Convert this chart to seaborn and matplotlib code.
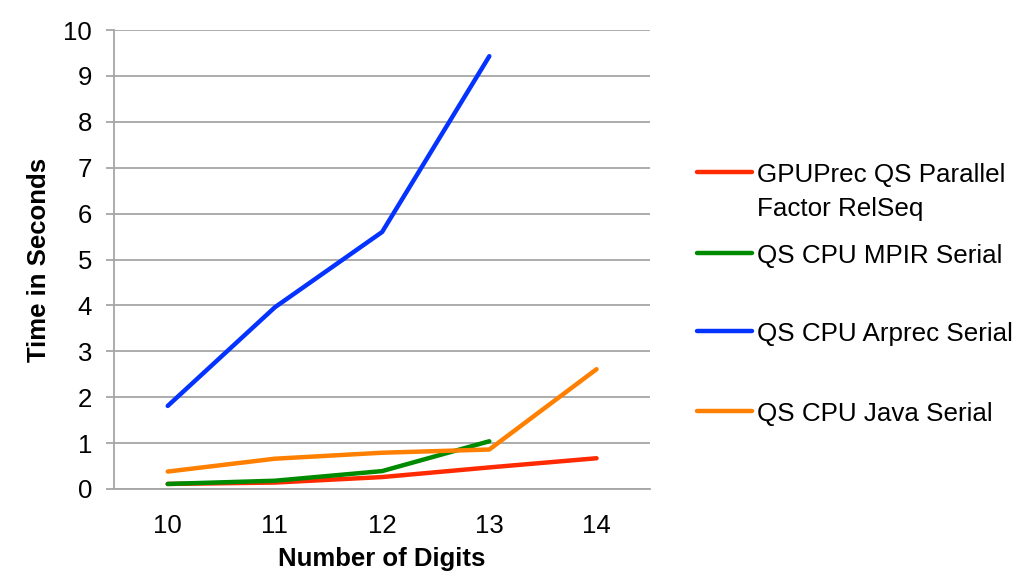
import numpy as np
import pandas as pd
import matplotlib
matplotlib.use("Agg")
import matplotlib.pyplot as plt
from matplotlib.lines import Line2D
import seaborn as sns

digits = ["10", "11", "12", "13", "14"]
gpuprec = [0.11, 0.14, 0.26, 0.47, 0.67]
mpir = [0.11, 0.18, 0.39, 1.04, np.nan]
arprec = [1.81, 3.96, 5.60, 9.43, np.nan]
java = [0.38, 0.66, 0.79, 0.86, 2.61]
series_names = ["GPUPrec QS Parallel\nFactor RelSeq", "QS CPU MPIR Serial",
                "QS CPU Arprec Serial", "QS CPU Java Serial"]
colors = ["#FF2A00", "#008A00", "#0433FF", "#FF8000"]
yticks = list(range(0, 11))

rows = []
for name, vals in zip(series_names, [gpuprec, mpir, arprec, java]):
    for d, v in zip(digits, vals):
        rows.append({"Digits": d, "Time": v, "Series": name})
df = pd.DataFrame(rows)

sns.set_theme(style="white")
plt.rcParams['font.family'] = ['Liberation Sans', 'DejaVu Sans']
plt.rcParams['text.color'] = 'black'
plt.rcParams['axes.labelcolor'] = 'black'
plt.rcParams['xtick.color'] = 'black'
plt.rcParams['ytick.color'] = 'black'

fig = plt.figure(figsize=(10.19, 5.78), dpi=100)
ax = fig.add_axes([0.112, 0.154, 0.526, 0.794])

sns.lineplot(data=df, x="Digits", y="Time", hue="Series", palette=colors,
             hue_order=series_names, linewidth=3.2, ax=ax, legend=False,
             solid_capstyle="round")

ax.set_xlim(-0.5, 4.5)
ax.set_ylim(0, 10)
ax.set_yticks(yticks)
ax.set_yticklabels([str(t) for t in yticks])
ax.grid(axis="y", color="#A6A6A6", linewidth=1.3)
ax.set_axisbelow(True)
for s in ["top", "right"]:
    ax.spines[s].set_visible(False)
for s in ["left", "bottom"]:
    ax.spines[s].set_color("#A6A6A6")
    ax.spines[s].set_linewidth(1.3)
ax.tick_params(axis="y", which="both", left=True, length=6, width=1.3,
               color="#A6A6A6", labelcolor="black", labelsize=18.5, pad=10)
ax.tick_params(axis="x", bottom=False, labelcolor="black", labelsize=18.5, pad=12)
ax.set_xlabel("Number of Digits", fontsize=18.5, fontweight="bold")
ax.set_ylabel("Time in Seconds", fontsize=18.5, fontweight="bold")
ax.xaxis.set_label_coords(0.5, -0.127)
ax.yaxis.set_label_coords(-0.118, 0.5)

# legend drawn manually
W, H = 1019, 578
leg_y = [172, 253, 331, 411]
for name, c, yy in zip(series_names, colors, leg_y):
    fig.add_artist(Line2D([697 / W, 752 / W], [1 - yy / H, 1 - yy / H],
                          color=c, linewidth=3.2, solid_capstyle="round"))
    fig.text(757 / W, 1 - (yy - 9) / H, name, fontsize=18.7, va="top",
             ha="left", linespacing=1.55, color="black")

fig.savefig("out.png", dpi=100)
